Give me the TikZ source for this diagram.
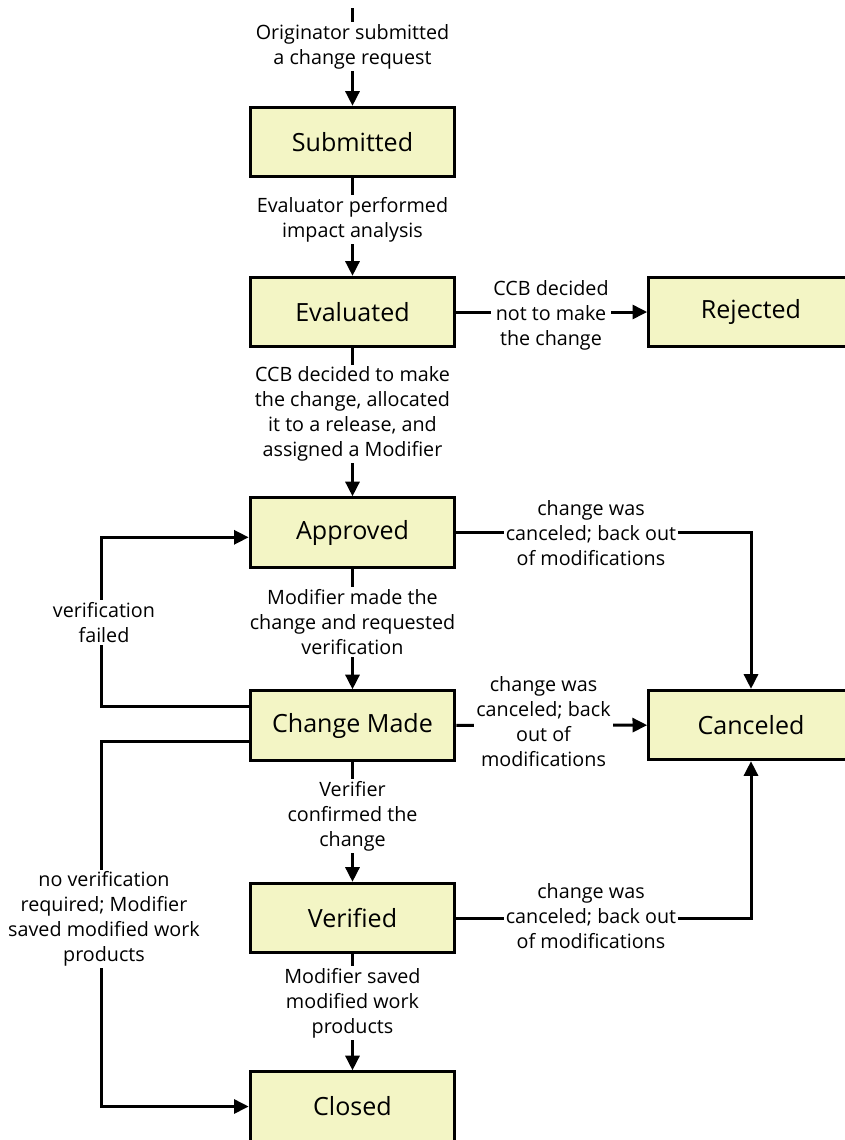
\documentclass[tikz,border=0pt]{standalone}
\usepackage{fontspec}
\setmainfont{Open Sans}
\usetikzlibrary{arrows.meta}
\definecolor{statefill}{HTML}{F3F5C5}
\begin{document}
\begin{tikzpicture}[x=0.75pt,y=-0.75pt,
  state/.style={draw=black, line width=2.25pt, fill=statefill,
    minimum width=153.5pt, minimum height=52pt, inner sep=0pt,
    font=\fontsize{18.8}{22}\selectfont},
  lbl/.style={fill=white, inner sep=1.5pt, align=center,
    font=\fontsize{14.8}{18.75}\selectfont},
  conn/.style={line width=2.25pt},
  arr/.style={conn, -{Triangle[length=11pt,width=10.5pt]}}]
\useasboundingbox (0,0) rectangle (845,1140);
% states
\node[state] (sub) at (352.5,142)   {Submitted};
\node[state] (ev)  at (352.5,312)   {Evaluated};
\node[state] (rej) at (751,312)     {Rejected};
\node[state] (app) at (352.5,532.5) {Approved};
\node[state] (cm)  at (352.5,725.5) {Change Made};
\node[state] (can) at (751,725)     {Canceled};
\node[state] (ver) at (352.5,918)   {Verified};
\node[state] (clo) at (352.5,1106.5){Closed};
\coordinate (start) at (352.5,8);
% connectors
\draw[arr] (start) -- (sub);
\draw[arr] (sub) -- (ev);
\draw[arr] (ev) -- (rej);
\draw[arr] (ev) -- (app);
\draw[arr] (app) -| (can);
\draw[arr] (app) -- (cm);
\draw[arr] ([yshift=14.25pt]cm.west) -- ++(-147,0) |- ([yshift=-3.6pt]app.west);
\draw[arr] (cm) -- (can);
\draw[arr] ([yshift=-12.15pt]cm.west) -- ++(-147,0) |- (clo);
\draw[arr] (cm) -- (ver);
\draw[arr] (ver) -| (can);
\draw[arr] (ver) -- (clo);
% labels
\node[lbl] (l0) at (352.5,46.5) {Originator submitted\\a change request};
\node[lbl] (l1) at (352.5,219.5) {Evaluator performed\\impact analysis};
\node[lbl] (l2) at (551,315) {CCB decided\\not to make\\the change};
\node[lbl] (l3) at (352.5,414) {CCB decided to make\\the change, allocated\\it to a release, and\\assigned a Modifier};
\node[lbl] (l4) at (591,533) {change was\\canceled; back out\\of modifications};
\node[lbl] (l5) at (352.5,622) {Modifier made the\\change and requested\\verification};
\node[lbl] (l6) at (104,622.5) {verification\\failed};
\node[lbl] (l7) at (543.5,722) {change was\\canceled; back\\out of\\modifications};
\node[lbl] (l8) at (104,919) {no verification\\required; Modifier\\saved modified work\\products};
\node[lbl] (l9) at (352.5,816) {Verifier\\confirmed the\\change};
\node[lbl] (l10) at (591,916.5) {change was\\canceled; back out\\of modifications};
\node[lbl] (l11) at (352.5,1003) {Modifier saved\\modified work\\products};
\end{tikzpicture}
\end{document}
